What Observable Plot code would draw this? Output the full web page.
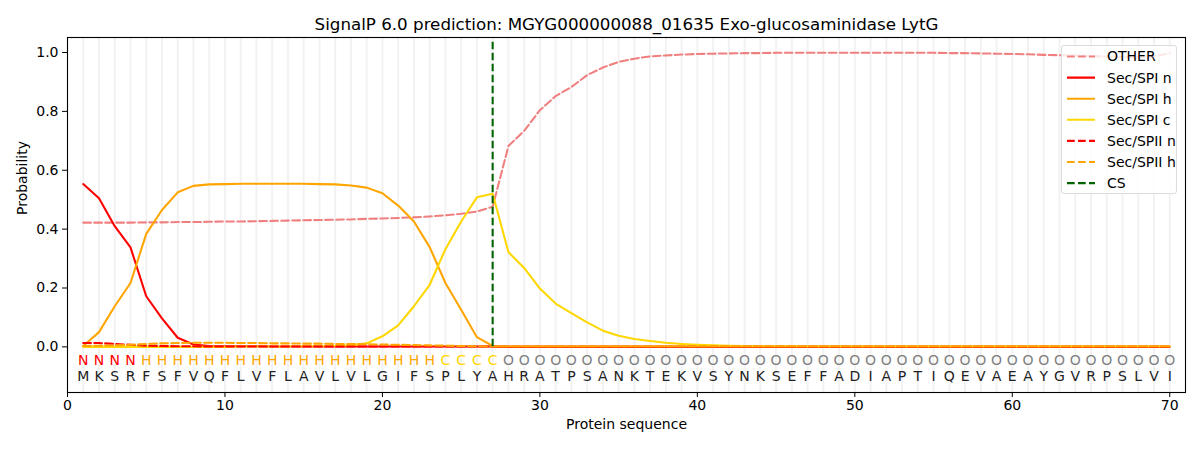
<!DOCTYPE html>
<html>
<head>
<meta charset="utf-8">
<script src="https://cdn.jsdelivr.net/npm/d3@7"></script>
<script src="https://cdn.jsdelivr.net/npm/@observablehq/plot@0.6"></script>
<style>
  html, body { margin: 0; padding: 0; background: #fff; }
  #wrap { position: relative; width: 1200px; height: 450px; font-family: "DejaVu Sans", sans-serif; }
  #legend { position: absolute; left: 1061px; top: 45px; width: 116px; height: 149px;
    background: rgba(255,255,255,0.8); border: 1px solid #dcdcdc; border-radius: 3px; box-sizing: border-box; }
</style>
</head>
<body>
<div id="wrap"><div id="chart"></div><svg id="legend" width="116" height="149"></svg></div>
<script>
const title = "SignalP 6.0 prediction: MGYG000000088_01635 Exo-glucosaminidase LytG";
const sequence = "MKSRFSFVQFLVFLAVLVLGIFSPLYAHRATPSANKTEKVSYNKSEFFADIAPTIQEVAEAYGVRPSLVI".split("");
const regionLabels = "NNNNHHHHHHHHHHHHHHHHHHHCCCCOOOOOOOOOOOOOOOOOOOOOOOOOOOOOOOOOOOOOOOOOOO".split("");
const cleavageSite = 27;

const other = [0.422,0.422,0.422,0.422,0.423,0.423,0.424,0.424,0.425,0.426,
  0.426,0.427,0.428,0.429,0.430,0.431,0.432,0.433,0.435,0.436,
  0.438,0.440,0.443,0.447,0.452,0.460,0.476,0.682,0.734,0.804,
  0.852,0.883,0.923,0.949,0.968,0.979,0.987,0.990,0.993,0.995,
  0.996,0.997,0.998,0.998,0.999,0.999,0.999,0.999,0.999,0.999,
  0.999,0.999,0.999,0.999,0.999,0.998,0.998,0.997,0.996,0.995,
  0.994,0.992,0.991,0.990,0.988,0.986,0.985,0.984,0.986,0.998];
const spiN = [0.553,0.505,0.410,0.338,0.172,0.097,0.031,0.008,0.003,0.002,
  0.002,0.002,0.001,0.001,0.001,0.001,0.001,0.001,0.001,0.001,
  0.001,0.001,0.001,0.001,0.001,0.001,0.001,0,0,0,
  0,0,0,0,0,0,0,0,0,0, 0,0,0,0,0,0,0,0,0,0,
  0,0,0,0,0,0,0,0,0,0, 0,0,0,0,0,0,0,0,0,0];
const spiH = [0.003,0.050,0.138,0.217,0.384,0.465,0.525,0.547,0.552,0.553,
  0.554,0.554,0.554,0.554,0.554,0.553,0.552,0.548,0.541,0.522,
  0.480,0.426,0.339,0.217,0.126,0.033,0.003,0.001,0.001,0.001,
  0.001,0.001,0.001,0.001,0.001,0.001,0.001,0.001,0.001,0.001,
  0.001,0.001,0.001,0.001,0.001,0.001,0.001,0.001,0.001,0.001,
  0.001,0.001,0.001,0.001,0.001,0.001,0.001,0.001,0.001,0.001,
  0.001,0.001,0.001,0.001,0.001,0.001,0.001,0.001,0.001,0.001];
const spiC = [0,0,0,0,0,0,0,0,0,0,
  0.001,0.001,0.001,0.001,0.002,0.002,0.003,0.005,0.012,0.036,
  0.073,0.138,0.211,0.332,0.426,0.508,0.520,0.322,0.268,0.198,
  0.147,0.115,0.083,0.055,0.038,0.027,0.020,0.014,0.010,0.007,
  0.005,0.004,0.003,0.002,0.002,0.002,0.001,0.001,0.001,0.001,
  0.001,0.001,0.001,0.001,0.001,0.001,0.001,0.001,0.001,0.001,
  0.001,0.001,0.001,0.001,0.001,0.001,0.001,0.001,0.001,0.001];
const spiiN = [0.013,0.013,0.010,0.007,0.004,0.003,0.002,0.002,0.001,0.001,
  0.001,0.001,0.001,0.001,0.001,0.001,0.001,0.001,0.001,0.001,
  0.001,0.001,0.001,0.001,0.001,0.001,0.001,0,0,0,
  0,0,0,0,0,0,0,0,0,0, 0,0,0,0,0,0,0,0,0,0,
  0,0,0,0,0,0,0,0,0,0, 0,0,0,0,0,0,0,0,0,0];
const spiiH = [0.003,0.004,0.005,0.007,0.010,0.012,0.013,0.014,0.014,0.014,
  0.013,0.013,0.012,0.012,0.011,0.011,0.010,0.010,0.009,0.008,
  0.007,0.006,0.005,0.004,0.003,0.002,0.001,0.001,0.001,0.001,
  0.001,0.001,0.001,0.001,0.001,0.001,0.001,0.001,0.001,0.001,
  0.001,0.001,0.001,0.001,0.001,0.001,0.001,0.001,0.001,0.001,
  0.001,0.001,0.001,0.001,0.001,0.001,0.001,0.001,0.001,0.001,
  0.001,0.001,0.001,0.001,0.001,0.001,0.001,0.001,0.001,0.001];
const xTicks = [0,10,20,30,40,50,60,70];
const yTicks = [0,0.2,0.4,0.6,0.8,1.0];

const series = [
  {name: "OTHER", values: other, color: "#F08080", dash: true},
  {name: "Sec/SPI n", values: spiN, color: "red", dash: false},
  {name: "Sec/SPI h", values: spiH, color: "orange", dash: false},
  {name: "Sec/SPI c", values: spiC, color: "gold", dash: false},
  {name: "Sec/SPII n", values: spiiN, color: "red", dash: true},
  {name: "Sec/SPII h", values: spiiH, color: "orange", dash: true}
];
const labelColor = {N: "red", H: "orange", C: "gold", O: "gray"};
const pos = sequence.map((_, i) => i + 1);
const residues = sequence.map((aa, i) => ({x: i + 1, aa, lab: regionLabels[i]}));
const DASH = "7.7,3.3";
const LW = 2.08;

const lineMarks = series.map(s => Plot.line(s.values.map((v, i) => ({x: i + 1, y: v})), {
  x: "x", y: "y", stroke: s.color, strokeWidth: LW,
  strokeDasharray: s.dash ? DASH : null
}));

const chart = Plot.plot({
  width: 1200, height: 450,
  marginLeft: 67, marginRight: 15, marginTop: 37, marginBottom: 58,
  style: {fontFamily: "DejaVu Sans, sans-serif", fontSize: "14px", color: "black", background: "white"},
  x: {domain: [0, 71]},
  y: {domain: [-0.155, 1.051]},
  marks: [
    Plot.ruleX(pos, {stroke: "#f2f2f2", strokeWidth: 2}),
    ...lineMarks,
    Plot.ruleX([cleavageSite], {y1: 0, y2: 1.04, stroke: "#006400", strokeWidth: LW, strokeDasharray: DASH}),
    Plot.text(residues, {x: "x", y: -0.047, text: "lab", fill: d => labelColor[d.lab], fontSize: 14}),
    Plot.text(residues, {x: "x", y: -0.102, text: "aa", fill: "#222", fontSize: 14}),
    Plot.frame({stroke: "black", strokeWidth: 1.1}),
    Plot.axisX({ticks: xTicks, tickFormat: d3.format("d"), tickSize: 5, tickPadding: 3, label: null, fontSize: 14}),
    Plot.axisY({ticks: yTicks, tickFormat: d3.format(".1f"), tickSize: 5, tickPadding: 4, label: null, fontSize: 14}),
    Plot.text([title], {frameAnchor: "top", lineAnchor: "bottom", fontSize: 16.7, fill: "black", dy: -8}),
    Plot.text(["Protein sequence"], {frameAnchor: "bottom", dy: 36, fontSize: 14, fill: "black"}),
    Plot.text(["Probability"], {frameAnchor: "left", dx: -45, rotate: -90, fontSize: 14, fill: "black"})
  ]
});
document.getElementById("chart").appendChild(chart);

// legend
const legendItems = [
  ...series.map(s => ({name: s.name, color: s.color, dash: s.dash})),
  {name: "CS", color: "#006400", dash: true}
];
const lg = d3.select("#legend");
legendItems.forEach((d, i) => {
  const y = 10.5 + i * 21.1;
  lg.append("line").attr("x1", 5).attr("x2", 33).attr("y1", y).attr("y2", y)
    .attr("stroke", d.color).attr("stroke-width", LW)
    .attr("stroke-dasharray", d.dash ? DASH : null);
  lg.append("text").attr("x", 45).attr("y", y).attr("dy", "0.35em")
    .attr("font-family", "DejaVu Sans, sans-serif").attr("font-size", 14).attr("fill", "black")
    .text(d.name);
});
</script>
</body>
</html>
